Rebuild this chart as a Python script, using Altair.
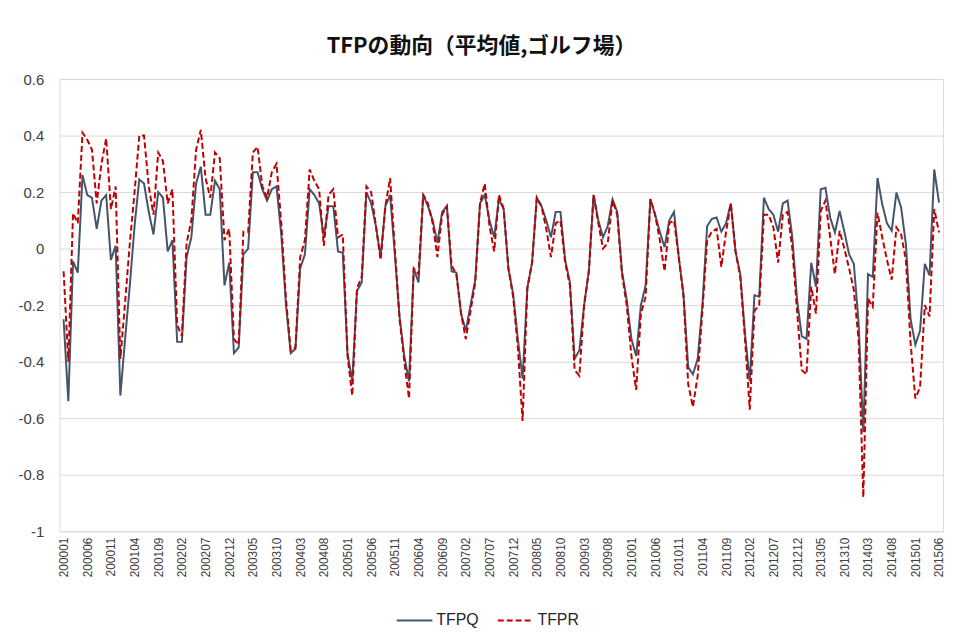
import altair as alt
import pandas as pd

# month labels 200001 .. 201506
months = []
for yy in range(2000, 2016):
    for mm in range(1, 13):
        if yy == 2015 and mm > 6:
            break
        months.append(f"{yy}{mm:02d}")

tick_labels = months[::5]

tfpq = [
    -0.25, -0.54, -0.045, -0.085, 0.26, 0.19, 0.18, 0.07, 0.17, 0.19,
    -0.04, 0.01, -0.52, -0.32, -0.13, 0.08, 0.245, 0.23, 0.13, 0.05,
    0.20, 0.18, -0.01, 0.03, -0.33, -0.33, -0.03, 0.04, 0.23, 0.29,
    0.12, 0.12, 0.24, 0.21, -0.13, -0.05, -0.37, -0.35, -0.02, 0.0,
    0.27, 0.27, 0.21, 0.17, 0.21, 0.22, 0.05, -0.2, -0.37, -0.355,
    -0.07, -0.02, 0.21, 0.19, 0.16, 0.04, 0.15, 0.15, -0.01, -0.015,
    -0.37, -0.47, -0.15, -0.12, 0.2, 0.16, 0.08, -0.03, 0.15, 0.19,
    -0.02, -0.24, -0.38, -0.47, -0.07, -0.12, 0.19, 0.15, 0.1, 0.02,
    0.13, 0.15, -0.08, -0.085, -0.23, -0.29, -0.2, -0.11, 0.16, 0.19,
    0.10, 0.04, 0.175, 0.14, -0.07, -0.16, -0.32, -0.46, -0.14, -0.05,
    0.18, 0.15, 0.10, 0.04, 0.13, 0.13, -0.04, -0.12, -0.39, -0.36,
    -0.2, -0.08, 0.19, 0.10, 0.04, 0.08, 0.175, 0.13, -0.08, -0.18,
    -0.32, -0.38, -0.2, -0.13, 0.175, 0.12, 0.06, 0.005, 0.10, 0.13,
    -0.03, -0.16, -0.42, -0.445, -0.39, -0.2, 0.08, 0.105, 0.11, 0.06,
    0.09, 0.16, -0.01, -0.09, -0.3, -0.47, -0.165, -0.17, 0.18, 0.14,
    0.12, 0.06, 0.16, 0.17, 0.04, -0.18, -0.31, -0.32, -0.05, -0.135,
    0.21, 0.215, 0.11, 0.057, 0.133, 0.06, -0.02, -0.054, -0.26, -0.65,
    -0.09, -0.1, 0.25, 0.157, 0.09, 0.063, 0.198, 0.145, 0.016, -0.25,
    -0.34, -0.29, -0.054, -0.095, 0.28, 0.163,
]

tfpr = [
    -0.08, -0.40, 0.125, 0.09, 0.41, 0.385, 0.35, 0.16, 0.30, 0.39,
    0.14, 0.22, -0.39, -0.19, 0.02, 0.20, 0.40, 0.40, 0.22, 0.12,
    0.34, 0.31, 0.16, 0.21, -0.27, -0.31, 0.02, 0.10, 0.35, 0.42,
    0.25, 0.18, 0.34, 0.32, 0.03, 0.07, -0.32, -0.34, 0.06, 0.06,
    0.34, 0.36, 0.22, 0.18, 0.27, 0.30, 0.09, -0.18, -0.36, -0.35,
    -0.03, 0.03, 0.28, 0.24, 0.21, 0.01, 0.19, 0.21, 0.04, 0.05,
    -0.38, -0.52, -0.14, -0.10, 0.22, 0.20, 0.08, -0.04, 0.15, 0.25,
    0.0, -0.25, -0.40, -0.53, -0.07, -0.09, 0.19, 0.16, 0.09, -0.03,
    0.12, 0.15, -0.06, -0.09, -0.23, -0.32, -0.22, -0.12, 0.16, 0.23,
    0.08, -0.01, 0.19, 0.14, -0.07, -0.17, -0.35, -0.61, -0.14, -0.05,
    0.18, 0.15, 0.07, -0.03, 0.09, 0.10, -0.05, -0.13, -0.43, -0.45,
    -0.2, -0.08, 0.19, 0.09, 0.0, 0.02, 0.17, 0.12, -0.09, -0.2,
    -0.38, -0.5, -0.23, -0.17, 0.175, 0.12, 0.03, -0.08, 0.09, 0.10,
    -0.03, -0.17, -0.48, -0.56, -0.45, -0.22, 0.03, 0.06, 0.07, -0.065,
    0.06, 0.16, -0.01, -0.1, -0.32, -0.57, -0.22, -0.2, 0.12, 0.12,
    0.075, -0.05, 0.12, 0.13, 0.0, -0.22, -0.43, -0.445, -0.135, -0.23,
    0.133, 0.17, 0.04, -0.09, 0.063, 0.0, -0.07, -0.147, -0.32, -0.88,
    -0.177, -0.206, 0.127, 0.04, -0.04, -0.11, 0.075, 0.05, -0.04, -0.335,
    -0.53, -0.49, -0.2, -0.24, 0.14, 0.057,
]

series_names = ["TFPQ", "TFPR"]
series_colors = ["#44546A", "#C00000"]

rows = []
for name, vals in zip(series_names, [tfpq, tfpr]):
    for m, v in zip(months, vals):
        rows.append({"month": m, "series": name, "value": v})
df = pd.DataFrame(rows)

y_ticks = [-1, -0.8, -0.6, -0.4, -0.2, 0, 0.2, 0.4, 0.6]

label_expr = (
    "datum.value == 0 ? '0' : (abs(datum.value) >= 0.999 ? "
    "(datum.value < 0 ? '-1' : '1') : "
    "(datum.value < 0 ? '-' + format(-datum.value, '.1f') : format(datum.value, '.1f')))"
)

legend_cfg = dict(
    title=None,
    orient="none",
    direction="horizontal",
    legendX=339,
    legendY=527,
    symbolType="stroke",
    symbolStrokeWidth=2,
    symbolSize=1296,
    labelFontSize=16,
    labelColor="#262626",
    labelFont="Liberation Sans",
    labelOffset=3,
    columnPadding=15,
)

chart = (
    alt.Chart(df)
    .mark_line(strokeWidth=2)
    .encode(
        x=alt.X(
            "month:O",
            sort=months,
            scale=alt.Scale(type="point", padding=0.85),
            axis=alt.Axis(
                title=None,
                values=tick_labels,
                labelAngle=270,
                ticks=False,
                domain=False,
                grid=False,
                labelFontSize=12,
                labelColor="#404040",
                labelFont="Liberation Sans",
                labelPadding=6,
            ),
        ),
        y=alt.Y(
            "value:Q",
            scale=alt.Scale(domain=[-1, 0.6], nice=False, zero=False),
            axis=alt.Axis(
                title=None,
                values=y_ticks,
                labelExpr=label_expr,
                ticks=False,
                domain=False,
                grid=True,
                gridColor="#D9D9D9",
                gridWidth=1,
                labelFontSize=15,
                labelColor="#404040",
                labelFont="Liberation Sans",
                labelPadding=16,
            ),
        ),
        color=alt.Color(
            "series:N",
            scale=alt.Scale(domain=series_names, range=series_colors),
            legend=alt.Legend(**legend_cfg),
        ),
        strokeDash=alt.StrokeDash(
            "series:N",
            scale=alt.Scale(domain=series_names, range=[[1, 0], [6, 3]]),
            legend=alt.Legend(**legend_cfg),
        ),
    )
    .properties(
        width=891,
        height=456,
        title=alt.Title(
            "TFPの動向（平均値,ゴルフ場）",
            font="Noto Sans CJK JP",
            fontSize=22,
            fontWeight="bold",
            color="#111111",
            anchor="middle",
            dx=-20,
            offset=14,
        ),
        autosize=alt.AutoSizeParams(type="none"),
        padding={"left": 52, "top": 69, "right": 4, "bottom": 100},
    )
    .configure_view(stroke=None)
    .configure(background="white")
)

chart.save("out.html", embed_options={"renderer": "svg", "actions": False})
